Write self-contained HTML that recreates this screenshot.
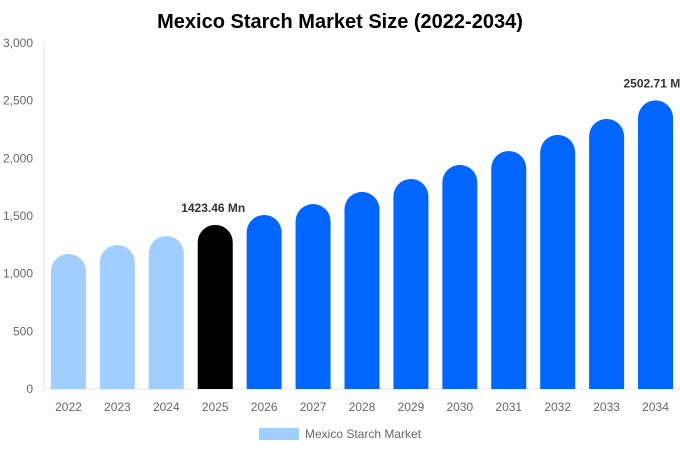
<!DOCTYPE html>
<html><head><meta charset="utf-8"><style>
body{margin:0;background:#fff;font-family:"Liberation Sans",sans-serif}
svg{display:block}
</style></head><body>
<svg id="chart" width="680" height="450">
<text x="340" y="28" text-anchor="middle" font-size="20" font-weight="bold" fill="#000">Mexico Starch Market Size (2022-2034)</text>
<g id="axes"></g><g id="bars"></g>
<g>
<rect x="259" y="428" width="40" height="12" fill="#a0cfff"></rect>
<text x="305" y="438" font-size="12" fill="#666">Mexico Starch Market</text>
</g>
</svg>
<script>
const categories=["2022","2023","2024","2025","2026","2027","2028","2029","2030","2031","2032","2033","2034"];
const values=[1171,1249,1327,1423.46,1509,1604,1709,1821,1943,2064,2203,2342,2502.71];
const yTicks=[0,500,1000,1500,2000,2500,3000];
const tickLabels=["0","500","1,000","1,500","2,000","2,500","3,000"];
const annotated={3:"1423.46 Mn",12:"2502.71 Mn"};
const NS="http://www.w3.org/2000/svg";
const x0=44,x1=680,yTop=43,yBot=389,yMax=3000;
const step=(x1-x0)/categories.length;
const y=v=>yBot-(v/yMax)*(yBot-yTop);
const xc=i=>x0+step*(i+0.5);
function mk(t,a,p){const e=document.createElementNS(NS,t);for(const k in a)e.setAttribute(k,a[k]);p.appendChild(e);return e;}
const ax=document.getElementById('axes'),bg=document.getElementById('bars');
const yl=mk('line',{x1:x0,x2:x0,y1:yTop,y2:yBot,stroke:'#e6e6e6'},ax);


const xl=mk('line',{x1:x0,x2:x1,y1:yBot,y2:yBot,stroke:'#e6e6e6'},ax);


yTicks.forEach((v,i)=>{
const t=mk('text',{x:33,y:y(v)+4,'text-anchor':'end','font-size':12,fill:'#666'},ax);
t.textContent=tickLabels[i];


});
const bw=35,r=bw/2;
categories.forEach((c,i)=>{
const cx=xc(i),top=y(values[i]),h=yBot-top;
const col=i<3?'#a0cfff':(i===3?'#000':'#0066ff');
const rr=Math.min(r,h);
const d=`M${cx-r},${yBot} L${cx-r},${top+rr} A${r},${rr} 0 0 1 ${cx+r},${top+rr} L${cx+r},${yBot} Z`;
const p=mk('path',{d:d,fill:col},bg);


const t=mk('text',{x:cx,y:yBot+22,'text-anchor':'middle','font-size':12,fill:'#666'},ax);
t.textContent=c;


if(annotated[i]){
const a=mk('text',{x:cx-(i===12?0:2),y:top-13,'text-anchor':'middle','font-size':12,'font-weight':'bold',fill:'#333'},bg);
a.textContent=annotated[i];


}
});
</script>
</body></html>
